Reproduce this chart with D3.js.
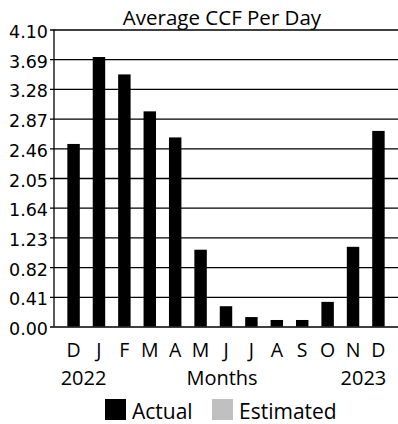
<!DOCTYPE html>
<html>
<head>
<meta charset="utf-8">
<script src="https://cdn.jsdelivr.net/npm/d3@7/dist/d3.min.js"></script>
<style>
  html, body { margin: 0; padding: 0; background: #fff; }
  svg { display: block; }
  text { fill: #000; }
</style>
</head>
<body>
<svg id="chart" width="398" height="424"></svg>
<script>
// Monthly average usage (CCF per day), Dec 2022 through Dec 2023
const months = ["D", "J", "F", "M", "A", "M", "J", "J", "A", "S", "O", "N", "D"];
const actual = [2.52, 3.72, 3.48, 2.97, 2.61, 1.06, 0.28, 0.13, 0.09, 0.09, 0.34, 1.10, 2.70];
const yTicks = [0.00, 0.41, 0.82, 1.23, 1.64, 2.05, 2.46, 2.87, 3.28, 3.69, 4.10];
const yearLabels = ["2022", "2023"];
const legendItems = [
  { name: "Actual", color: "#000000" },
  { name: "Estimated", color: "#c0c0c0" }
];

const svg = d3.select("#chart");
const textFont = "'Open Sans', 'Noto Sans', sans-serif";
const tickFont = "'DejaVu Sans', sans-serif";

const plot = { left: 54, right: 398, top: 29.5, bottom: 326.5 };

const x = d3.scaleBand()
  .domain(d3.range(months.length))
  .range([plot.left, plot.right])
  .paddingInner(0.51)
  .paddingOuter(0.525);

const y = d3.scaleLinear()
  .domain([0, 4.10])
  .range([plot.bottom, plot.top]);

// Title
svg.append("text")
  .attr("x", 222)
  .attr("y", 25)
  .attr("text-anchor", "middle")
  .style("font-family", textFont)
  .style("font-size", "20.5px")
  .text("Average CCF Per Day");

// Horizontal gridlines with short outward ticks
const yAxis = d3.axisLeft(y)
  .tickValues(yTicks)
  .tickFormat(d3.format(".2f"))
  .tickSize(-(plot.right - plot.left))
  .tickPadding(6);

const gy = svg.append("g")
  .attr("transform", `translate(${plot.left},0)`)
  .call(yAxis);
gy.select(".domain").remove();
gy.selectAll(".tick line")
  .attr("x1", -4)
  .attr("stroke", "#000")
  .attr("stroke-width", 1.3);
gy.selectAll(".tick text")
  .attr("x", -6)
  .attr("dy", "8px")
  .style("font-family", tickFont)
  .style("font-size", "17.5px")
  .attr("fill", "#000");

// Vertical axis line
svg.append("line")
  .attr("x1", plot.left).attr("x2", plot.left)
  .attr("y1", plot.top).attr("y2", plot.bottom)
  .attr("stroke", "#000")
  .attr("stroke-width", 1.3);

// Bars
svg.append("g")
  .selectAll("rect")
  .data(actual)
  .join("rect")
  .attr("x", (d, i) => x(i))
  .attr("width", x.bandwidth())
  .attr("y", d => y(d))
  .attr("height", d => y(0) - y(d))
  .attr("fill", "#000");

// Month letters
svg.append("g")
  .selectAll("text")
  .data(months)
  .join("text")
  .attr("x", (d, i) => x(i) + x.bandwidth() / 2)
  .attr("y", 356.5)
  .attr("text-anchor", "middle")
  .style("font-family", textFont)
  .style("font-size", "19.5px")
  .text(d => d);

// Year labels and axis title
const yearRow = svg.append("g")
  .style("font-family", textFont)
  .style("font-size", "20px");
yearRow.append("text")
  .attr("x", x(0) + x.bandwidth() / 2 + 10)
  .attr("y", 385)
  .attr("text-anchor", "middle")
  .text(yearLabels[0]);
yearRow.append("text")
  .attr("x", 222)
  .attr("y", 385)
  .attr("text-anchor", "middle")
  .text("Months");
yearRow.append("text")
  .attr("x", x(months.length - 1) + x.bandwidth() / 2 - 15)
  .attr("y", 385)
  .attr("text-anchor", "middle")
  .text(yearLabels[1]);

// Legend
const legendX = [105, 212];
const legend = svg.append("g")
  .selectAll("g")
  .data(legendItems)
  .join("g")
  .attr("transform", (d, i) => `translate(${legendX[i]},399)`);
legend.append("rect")
  .attr("width", 21)
  .attr("height", 21)
  .attr("fill", d => d.color);
legend.append("text")
  .attr("x", 27)
  .attr("y", 20)
  .style("font-family", textFont)
  .style("font-size", "21px")
  .text(d => d.name);
</script>
</body>
</html>
